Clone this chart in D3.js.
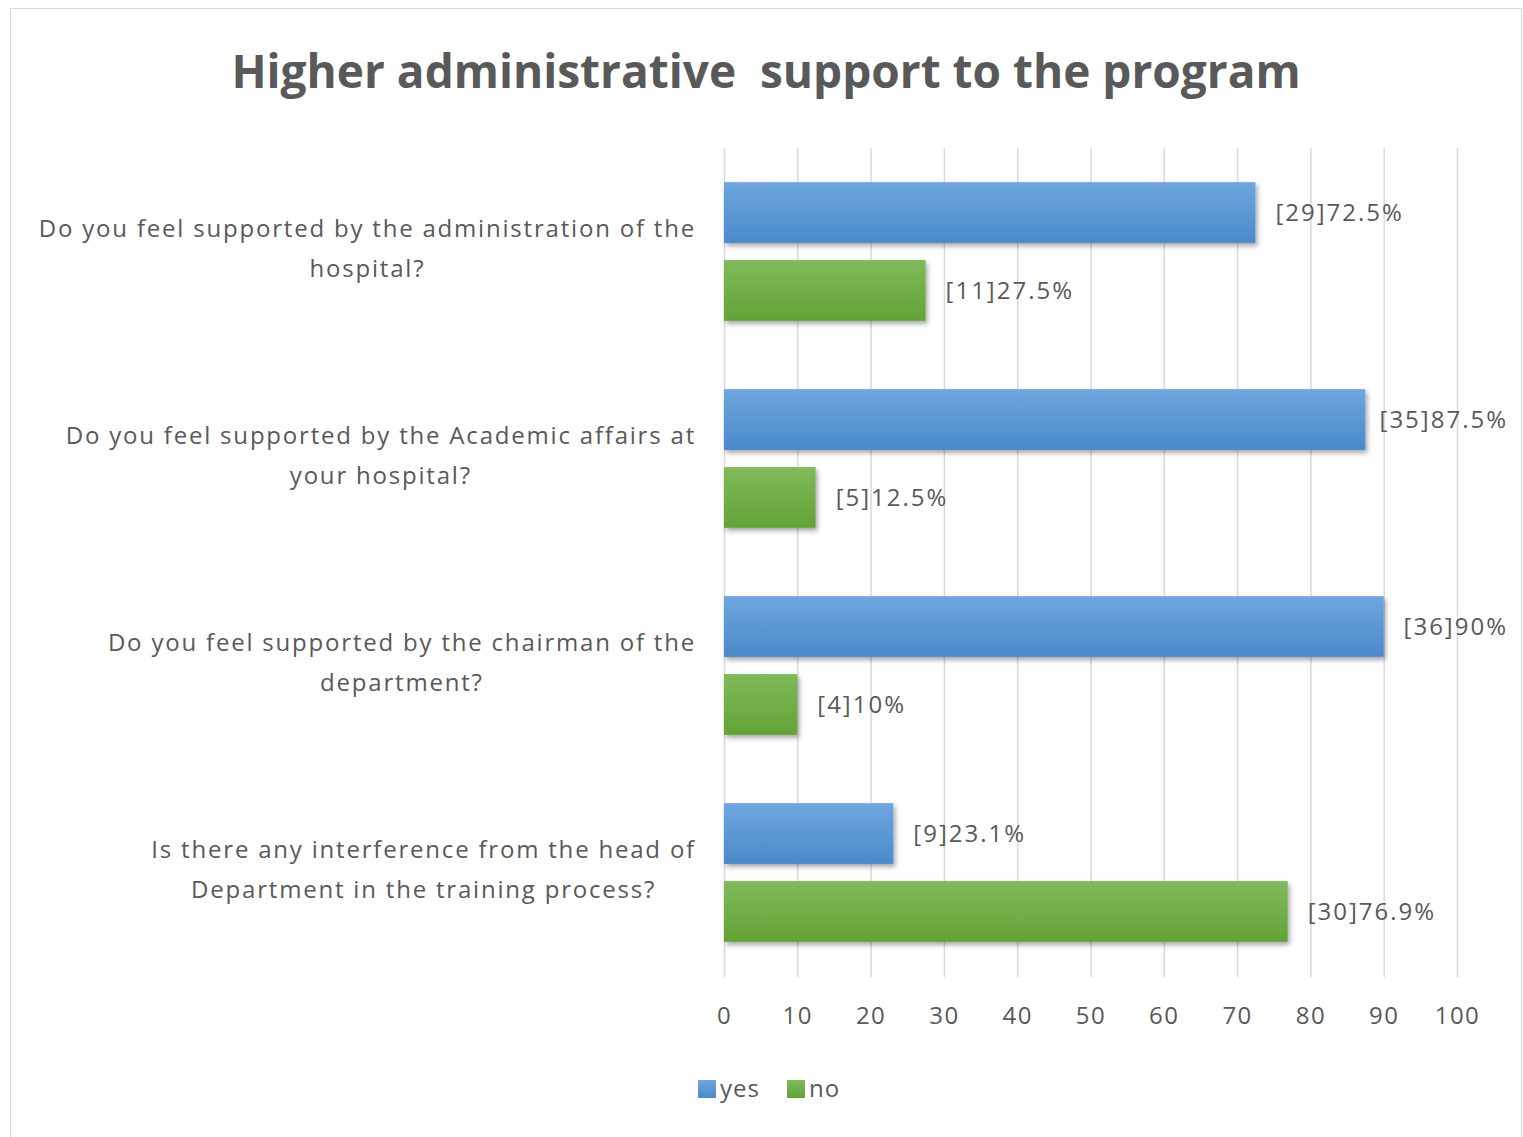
<!DOCTYPE html>
<html>
<head>
<meta charset="utf-8">
<script src="https://cdn.jsdelivr.net/npm/d3@7"></script>
<style>
  html, body { margin: 0; padding: 0; background: #fff; }
  svg { display: block; font-family: "Open Sans", "Liberation Sans", sans-serif; }
</style>
</head>
<body>
<div id="chart"></div>
<script>
const title = "Higher administrative  support to the program";
const categories = [
  ["Do you feel supported by the administration of the", "hospital?"],
  ["Do you feel supported by the Academic affairs at", "your hospital?"],
  ["Do you feel supported by the chairman of the", "department?"],
  ["Is there any interference from the head of", "Department in the training process?"]
];
const seriesNames = ["yes", "no"];
const yesPct = [72.5, 87.5, 90, 23.1];
const noPct = [27.5, 12.5, 10, 76.9];
const yesCount = [29, 35, 36, 9];
const noCount = [11, 5, 4, 30];
const xTicks = [0, 10, 20, 30, 40, 50, 60, 70, 80, 90, 100];

const W = 1523, H = 1137;
const margin = { top: 148, right: 66, bottom: 161, left: 724 };
const textColor = "#595959";

const svg = d3.select("#chart").append("svg")
  .attr("width", W)
  .attr("height", H);

const defs = svg.append("defs");
const grads = { yes: ["#6ea7de", "#4a89cc"], no: ["#80ba5a", "#62a336"] };
Object.entries(grads).forEach(([k, c]) => {
  const g = defs.append("linearGradient").attr("id", "g-" + k)
    .attr("x1", 0).attr("y1", 0).attr("x2", 0).attr("y2", 1);
  g.append("stop").attr("offset", "0%").attr("stop-color", c[0]);
  g.append("stop").attr("offset", "100%").attr("stop-color", c[1]);
});
defs.append("filter").attr("id", "shadow")
  .attr("x", "-5%").attr("y", "-20%").attr("width", "115%").attr("height", "160%")
  .append("feDropShadow")
    .attr("dx", 2).attr("dy", 3).attr("stdDeviation", 2.5)
    .attr("flood-color", "#000").attr("flood-opacity", 0.35);

// chart frame
svg.append("rect")
  .attr("x", 10.5).attr("y", 8.5)
  .attr("width", 1511).attr("height", 1140)
  .attr("fill", "#fff")
  .attr("stroke", "#d9d9d9");

svg.append("text")
  .attr("x", 766).attr("y", 88)
  .attr("text-anchor", "middle")
  .style("font-size", "46px")
  .style("font-weight", "bold")
  .style("fill", textColor)
  .style("white-space", "pre")
  .text(title);

const x = d3.scaleLinear().domain([0, 100]).range([margin.left, W - margin.right]);
const y0 = d3.scaleBand().domain(d3.range(categories.length))
  .range([margin.top, H - margin.bottom])
  .paddingInner(0.33).paddingOuter(0.165);
const y1 = d3.scaleBand().domain(seriesNames)
  .range([0, y0.bandwidth()])
  .paddingInner(0.22);

// gridlines
svg.append("g")
  .attr("transform", `translate(0,${margin.top})`)
  .call(d3.axisBottom(x).tickValues(xTicks).tickSize(H - margin.bottom - margin.top + 1).tickFormat(() => ""))
  .call(g => g.select(".domain").remove())
  .selectAll("line")
    .style("stroke", "#d9d9d9")
    .style("stroke-width", 1.5);

// x axis labels
svg.append("g")
  .attr("transform", `translate(0,${H - margin.bottom})`)
  .call(d3.axisBottom(x).tickValues(xTicks).tickSize(0).tickPadding(31))
  .call(g => g.select(".domain").remove())
  .selectAll("text")
    .style("font-family", "'Open Sans', sans-serif")
    .style("font-size", "24px")
    .style("letter-spacing", "1.5px")
    .style("fill", textColor);

const rows = categories.map((c, i) => ({
  i,
  values: [
    { key: "yes", pct: yesPct[i], n: yesCount[i] },
    { key: "no", pct: noPct[i], n: noCount[i] }
  ]
}));

const group = svg.selectAll("g.cat")
  .data(rows)
  .join("g")
    .attr("class", "cat")
    .attr("transform", d => `translate(0,${y0(d.i)})`);

group.selectAll("rect")
  .data(d => d.values)
  .join("rect")
    .attr("x", x(0))
    .attr("y", d => y1(d.key))
    .attr("width", d => x(d.pct) - x(0))
    .attr("height", y1.bandwidth())
    .attr("fill", d => `url(#g-${d.key})`)
    .attr("filter", "url(#shadow)");

const labelRight = 1508;
group.selectAll("text.val")
  .data(d => d.values)
  .join("text")
    .attr("class", "val")
    .attr("y", d => y1(d.key) + y1.bandwidth() / 2)
    .attr("dy", "0.35em")
    .style("font-size", "24px")
    .style("letter-spacing", "2px")
    .style("fill", textColor)
    .text(d => `[${d.n}]${d.pct}%`)
    .attr("x", function(d) {
      const w = this.getComputedTextLength();
      return Math.min(x(d.pct) + 20, labelRight - w);
    });

// category labels
group.append("text")
  .attr("text-anchor", "middle")
  .style("font-size", "24px")
  .style("letter-spacing", "1.8px")
  .style("fill", textColor)
  .selectAll("tspan")
  .data((d) => categories[d.i].map((line, k) => ({ line, k })))
  .join("tspan")
    .text(d => d.line)
    .attr("y", d => y0.bandwidth() / 2 - 14 + d.k * 40)
    .attr("x", 364);

// right-align first line to x=694, center second under it
group.each(function(d) {
  const tspans = d3.select(this).selectAll("tspan").nodes();
  const w0 = tspans[0].getComputedTextLength();
  const cx = 696 - w0 / 2;
  tspans.forEach(t => d3.select(t).attr("x", cx));
});

// legend
const legend = svg.append("g").attr("transform", "translate(698,1089)");
const legendItems = legend.selectAll("g")
  .data(seriesNames)
  .join("g")
    .attr("transform", (d, i) => `translate(${i * 89},0)`);
legendItems.append("rect")
  .attr("x", 0).attr("y", -9)
  .attr("width", 18).attr("height", 18)
  .attr("fill", d => `url(#g-${d})`);
legendItems.append("text")
  .attr("x", 22).attr("dy", "0.35em")
  .style("font-size", "24px")
  .style("letter-spacing", "1px")
  .style("fill", textColor)
  .text(d => d);
</script>
</body>
</html>
